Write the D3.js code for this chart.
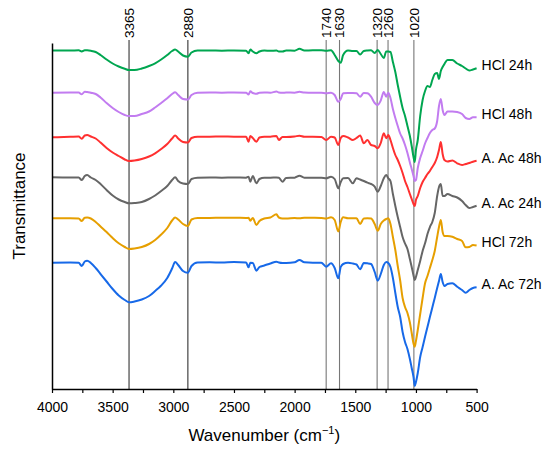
<!DOCTYPE html>
<html>
<head>
<meta charset="utf-8">
<script src="https://cdn.jsdelivr.net/npm/d3@7"></script>
<style>
  body { margin: 0; background: #fff; }
  svg { font-family: "Liberation Sans", Arial, sans-serif; }
</style>
</head>
<body>
<div id="chart"></div>
<script>
// wavenumbers (cm-1) shared by all spectra
const wavenumbers = [
  4000, 3850, 3780, 3755, 3730, 3710, 3680, 3640, 3600, 3550,
  3500, 3450, 3400, 3365, 3320, 3260, 3200, 3150, 3100, 3050,
  3010, 2985, 2960, 2920, 2880, 2850, 2800, 2700, 2600, 2500,
  2400, 2380, 2365, 2345, 2315, 2290, 2250, 2200, 2150, 2130,
  2100, 2070, 2000, 1960, 1920, 1850, 1780, 1740, 1700, 1670,
  1640, 1620, 1600, 1560, 1520, 1490, 1460, 1430, 1400, 1370,
  1340, 1315, 1290, 1265, 1245, 1228, 1210, 1190, 1170, 1150,
  1130, 1110, 1090, 1070, 1050, 1035, 1020, 1010, 1000, 985,
  965, 945, 925, 905, 885, 865, 845, 825, 810, 795,
  780, 765, 740, 700, 660, 620, 590, 560, 530, 500
];

// transmittance, arbitrary units (stacked with offsets)
const hcl24 = [
  338.5, 338.5, 338.7, 337.5, 338.8, 338.7, 338.2, 337, 334, 329.5,
  325.5, 322.5, 320.2, 319, 319, 320.5, 323, 325.7, 329.5, 334,
  338, 339.5, 337.5, 333.5, 332.3, 336.5, 338.5, 338.5, 338.3, 338.5,
  338.2, 335.7, 339.5, 337.5, 335.7, 337.5, 338.5, 338.2, 338.5, 337.5,
  337.5, 338.5, 338.3, 340.2, 338.5, 338.7, 338.7, 338.3, 338.7, 334,
  328, 326.3, 334, 338.5, 338, 338, 334.5, 338, 338.5, 338.7,
  336, 339, 335, 331, 337.5, 337.5, 337, 327, 317, 304,
  292, 281, 273, 263, 253, 243, 232, 227, 239, 249,
  273, 289, 298, 303, 302, 309, 315, 316, 310, 318,
  322, 325, 329, 329, 325.5, 323, 320.5, 318.5, 319.5, 320.7
];
const hcl48 = [
  296.3, 296.5, 296.5, 294.7, 297.3, 297, 296.2, 295, 291.5, 286,
  281, 277, 274, 273, 273, 275, 277.5, 281.5, 286, 290.7,
  295, 296.7, 294, 290, 289.5, 294, 296.3, 296.5, 296.3, 296.5,
  296.3, 294.5, 297.7, 296, 295.2, 296.3, 296.5, 296.3, 297.5, 296.5,
  296.2, 296.5, 296.3, 297.2, 296.5, 296.3, 296.3, 295.7, 296.3, 294,
  287.3, 290, 295.7, 296, 296, 295.7, 292.3, 296, 295.7, 292.3,
  286, 284, 288.5, 297, 292.3, 296.3, 291, 280, 271, 263,
  255.5, 250.5, 244, 236, 226.5, 220, 213, 208, 209, 221,
  231, 238, 245.5, 251, 256, 259, 260.5, 268, 283, 290,
  279, 274, 277.5, 277.5, 277, 275, 271, 270, 271.7, 271.7
];
const aac48 = [
  251.7, 252.2, 252.5, 250.2, 253.5, 254, 252.5, 250.5, 246.5, 241,
  236.5, 233, 229.5, 228, 228.5, 230, 232.5, 235.7, 240, 245,
  250.5, 253.5, 250.5, 247, 246.5, 251, 252.3, 252.3, 252.5, 252.3,
  252.3, 247.3, 253, 251, 247.3, 251.5, 252.3, 252.3, 253, 249,
  252, 252, 252.5, 253.3, 252.3, 252.3, 252, 249, 252.3, 251.5,
  244, 251, 253, 251.5, 249, 251, 253.5, 245.7, 249, 244,
  243, 240.7, 246, 255.7, 250.7, 254, 249, 241, 234, 229,
  223, 216, 208, 202, 195, 190, 185, 183, 189, 193,
  201, 207, 211, 215, 218, 222, 226, 232, 239, 247,
  235, 229, 227.5, 228.5, 225.7, 224, 225, 226, 227.3, 228.2
];
const aac24 = [
  211.7, 211.5, 211.5, 209, 213, 214, 211.5, 209, 205, 199,
  193.5, 189.5, 187, 185.7, 186, 187, 190, 193.5, 198, 203,
  209, 211.7, 208, 205.5, 205, 210, 211.3, 211.5, 211.3, 211.5,
  211.3, 212.3, 207.3, 213, 205.7, 210, 211.3, 211.3, 211.5, 211.3,
  207.3, 211, 211.3, 213.3, 211.3, 211.3, 211.3, 210.7, 212.3, 210,
  200.7, 207, 210.7, 211, 205.7, 210.7, 209.5, 208, 206.3, 205,
  202.3, 197.3, 203, 210.7, 214, 210.7, 208, 195, 183, 172,
  162, 152, 145.5, 140, 130, 122, 113.5, 109, 112, 119,
  128, 138, 145.7, 155, 162, 167, 176, 193, 202, 205,
  193, 193, 195, 193, 191.5, 188, 184, 181, 182, 183.2
];
const hcl72 = [
  170.7, 170.7, 170.5, 168, 171.3, 171.5, 170.5, 167, 162.5, 157,
  151, 145.7, 142, 140, 140.5, 142, 145, 149, 154.5, 161,
  168.5, 171.5, 169.5, 165, 163, 169.5, 171, 171, 171.3, 171.3,
  171, 171.2, 168.3, 171, 164, 168, 170.5, 171.5, 174.7, 171.5,
  170.5, 170.5, 171, 170.7, 171.3, 171.2, 171, 170.5, 171.7, 169,
  157.5, 167, 171.7, 170.7, 170.7, 170.7, 165, 170.5, 170.7, 170.5,
  165, 158.3, 165, 168.5, 170, 170.7, 165, 152, 139, 123,
  108.5, 91, 82, 76, 66.5, 56, 45.5, 42.3, 48, 59,
  75, 91, 105.7, 113, 121, 129, 138, 152, 162, 169,
  157, 153, 153, 152.3, 150, 148, 141.7, 142, 144, 143.5
];
const aac72 = [
  126.3, 126.5, 126.2, 123, 127.5, 128.3, 126, 121, 115, 107.5,
  100, 93.5, 89, 86.7, 87.5, 89.5, 93, 98, 103.5, 111,
  120.5, 127, 124, 118, 116.3, 123, 126.5, 126.7, 126.5, 127,
  126.5, 121.7, 126.3, 126, 118.3, 122, 123.5, 125.5, 127.3, 126.5,
  126, 126, 126.7, 129, 126.7, 126.3, 126.3, 122.3, 125.7, 121,
  110.7, 122, 125, 126.3, 125.5, 124.5, 119.7, 126, 125.7, 125,
  117, 108.3, 115, 124, 127, 126, 122, 111, 96, 82,
  72, 57, 47, 40, 30, 21, 12, 3, 7, 16,
  32, 42, 52.3, 62, 72, 81.5, 91, 101, 108, 115,
  107, 103, 105, 105.7, 102.3, 99, 96.3, 99, 101, 101.7
];

const seriesNames = ["HCl 24h", "HCl 48h", "A. Ac 48h", "A. Ac 24h", "HCl 72h", "A. Ac 72h"];
const seriesValues = [hcl24, hcl48, aac48, aac24, hcl72, aac72];
const seriesColors = ["#00A650", "#C27CF0", "#FF3030", "#666666", "#E69F00", "#1769E8"];

// marked bands: label text and where the line is drawn
const peakLabels = ["3365", "2880", "1740", "1630", "1320", "1260", "1020"];
const peakPositions = [3365, 2880, 1740, 1630, 1320, 1230, 1017];

const xTicks = d3.range(4000, 499, -250);

const WIDTH = 550, HEIGHT = 449;
const PLOT = { left: 52, right: 476.6, top: 43, bottom: 389 };

const svg = d3.select("#chart").append("svg")
  .attr("width", WIDTH)
  .attr("height", HEIGHT);

const x = d3.scaleLinear().domain([4000, 500]).range([PLOT.left, PLOT.right]);
const y = d3.scaleLinear().domain([0, 346]).range([PLOT.bottom, PLOT.top]);

// band marker lines (behind the spectra)
svg.append("g").selectAll("line")
  .data(peakPositions)
  .enter().append("line")
  .attr("x1", d => x(d)).attr("x2", d => x(d))
  .attr("y1", PLOT.top - 3).attr("y2", PLOT.bottom)
  .attr("stroke", d => d > 2000 ? "#333" : "#777")
  .attr("stroke-width", 1.1);

svg.append("g").selectAll("text")
  .data(peakLabels)
  .enter().append("text")
  .attr("transform", (d, i) => `translate(${x(peakPositions[i]) + 4.8},${PLOT.top - 5}) rotate(-90)`)
  .attr("text-anchor", "start")
  .attr("font-size", 13.5)
  .attr("fill", "#000")
  .text(d => d);

// spectra
const line = d3.line()
  .x((d, i) => x(wavenumbers[i]))
  .y(d => y(d))
  .curve(d3.curveMonotoneX);

svg.append("g").selectAll("path")
  .data(seriesValues)
  .enter().append("path")
  .attr("d", d => line(d))
  .attr("fill", "none")
  .attr("stroke", (d, i) => seriesColors[i])
  .attr("stroke-width", 2)
  .attr("stroke-linejoin", "round");

// series labels next to the right end
svg.append("g").selectAll("text")
  .data(seriesNames)
  .enter().append("text")
  .attr("x", x(500) + 5)
  .attr("y", (d, i) => y(seriesValues[i][seriesValues[i].length - 1]) - 3)
  .attr("dy", "0.35em")
  .attr("font-size", 14)
  .text(d => d);

// x axis
const xAxis = svg.append("g")
  .attr("transform", `translate(0,${PLOT.bottom})`)
  .call(d3.axisBottom(x)
    .tickValues(xTicks)
    .tickFormat(d => d % 500 === 0 ? d : "")
    .tickSize(4)
    .tickSizeOuter(0)
    .tickPadding(9));
xAxis.select(".domain").attr("stroke", "#000").attr("stroke-width", 1.5);
xAxis.selectAll(".tick line").attr("stroke", "#000").attr("stroke-width", 1.2);
xAxis.selectAll(".tick text")
  .attr("font-size", 14)
  .attr("font-family", "Liberation Sans, Arial, sans-serif")
  .attr("fill", "#000");

// y axis: plain line, no ticks
const yAxis = svg.append("g")
  .attr("transform", `translate(${PLOT.left},0)`)
  .call(d3.axisLeft(y).tickValues([]).tickSizeOuter(0));
yAxis.select(".domain").attr("stroke", "#000").attr("stroke-width", 1.5);

// axis titles
const xTitle = svg.append("text")
  .attr("x", (PLOT.left + PLOT.right) / 2)
  .attr("y", 441)
  .attr("text-anchor", "middle")
  .attr("font-size", 17);
xTitle.append("tspan").text("Wavenumber (cm");
xTitle.append("tspan").attr("font-size", 11).attr("dy", -7).text("\u22121");
xTitle.append("tspan").attr("dy", 7).text(")");

svg.append("text")
  .attr("transform", "translate(24.5,206) rotate(-90)")
  .attr("text-anchor", "middle")
  .attr("font-size", 17)
  .text("Transmittance");
</script>
</body>
</html>
